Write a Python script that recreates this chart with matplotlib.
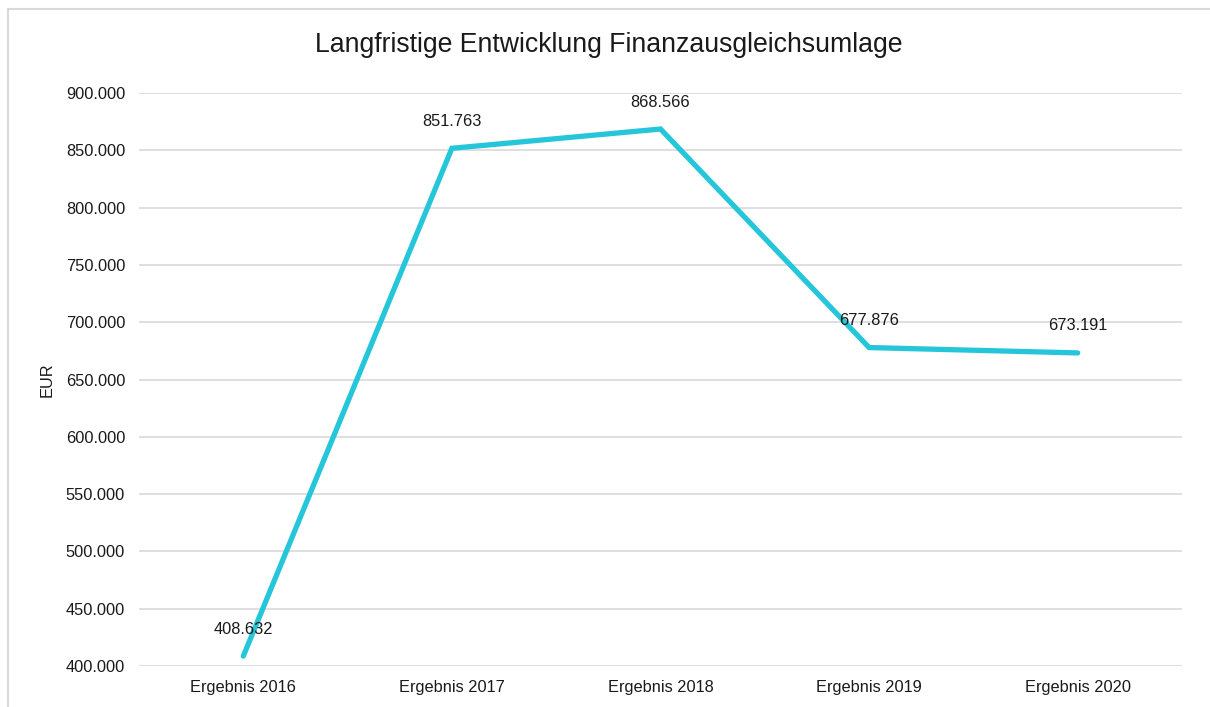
import matplotlib
matplotlib.use("Agg")
import matplotlib.pyplot as plt
from matplotlib.patches import Rectangle
from matplotlib.ticker import FuncFormatter

categories = ["Ergebnis 2016", "Ergebnis 2017", "Ergebnis 2018", "Ergebnis 2019", "Ergebnis 2020"]
values = [408632, 851763, 868566, 677876, 673191]
value_labels = ["408.632", "851.763", "868.566", "677.876", "673.191"]
yticks = [400000, 450000, 500000, 550000, 600000, 650000, 700000, 750000, 800000, 850000, 900000]

plt.rcParams['font.family'] = ['Liberation Sans', 'DejaVu Sans']

W, H = 1210, 707
fig = plt.figure(figsize=(W / 100, H / 100), dpi=100)
fig.patch.set_facecolor("white")

# outer frame
fig.patches.append(Rectangle((8 / W, -0.1), 1.2, 1 - 9 / H + 0.1, transform=fig.transFigure,
                             fill=False, edgecolor="#D9D9D9", linewidth=1.5))

ax = fig.add_axes([139 / W, 1 - 666 / H, (1182 - 139) / W, (666 - 93) / H])
x = list(range(len(categories)))
ax.plot(x, values, color="#26C6DA", linewidth=3.8, solid_capstyle="round", solid_joinstyle="miter", zorder=3)

for xi, v, lab in zip(x, values, value_labels):
    ax.annotate(lab, (xi, v), xytext=(0, 27), textcoords="offset pixels",
                ha="center", va="center", fontsize=11.8, color="#1a1a1a", zorder=4)

ax.set_xlim(-0.5, len(categories) - 0.5)
ax.set_ylim(400000, 900000)
ax.set_yticks(yticks)
ax.yaxis.set_major_formatter(FuncFormatter(lambda v, p: f"{int(v):,}".replace(",", ".")))
ax.set_xticks(x)
ax.set_xticklabels(categories)
ax.tick_params(axis="both", length=0, labelsize=11.8, colors="#1a1a1a")
ax.tick_params(axis="y", pad=10)
ax.tick_params(axis="x", pad=10)
ax.grid(axis="y", color="#D9D9D9", linewidth=1.2, zorder=0)
ax.set_axisbelow(True)
for s in ax.spines.values():
    s.set_visible(False)

ax.set_ylabel("EUR", fontsize=11.8, color="#1a1a1a")
ax.yaxis.set_label_coords(-(139 - 55) / (1182 - 139), 0.5)

fig.text(609 / W, 1 - 45 / H, "Langfristige Entwicklung Finanzausgleichsumlage",
         ha="center", va="center", fontsize=19.2, color="#1a1a1a")

fig.savefig("out.png", dpi=100, facecolor="white")
